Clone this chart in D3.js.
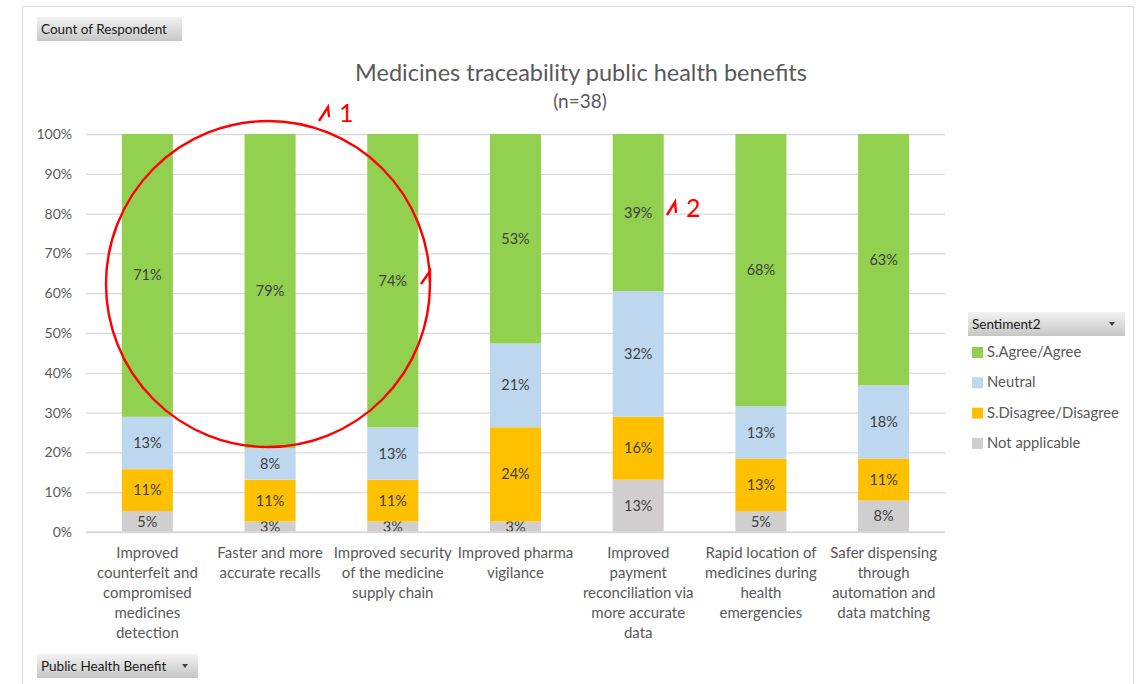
<!DOCTYPE html>
<html lang="en">
<head>
<meta charset="utf-8">
<title>Medicines traceability public health benefits</title>
<script src="https://d3js.org/d3.v7.min.js"></script>
<style>
  body { margin: 0; padding: 0; background: #fff; }
  svg { display: block; font-family: Lato, "Open Sans", sans-serif; }
</style>
</head>
<body>
<svg id="chart" width="1140" height="684"></svg>
<script>
// categories (x axis), split into lines the way the chart wraps them
const categories = [
  ["Improved", "counterfeit and", "compromised", "medicines", "detection"],
  ["Faster and more", "accurate recalls"],
  ["Improved security", "of the medicine", "supply chain"],
  ["Improved pharma", "vigilance"],
  ["Improved", "payment", "reconciliation via", "more accurate", "data"],
  ["Rapid location of", "medicines during", "health", "emergencies"],
  ["Safer dispensing", "through", "automation and", "data matching"]
];

// Count of Respondent per sentiment (n=38)
const notApplicable = [2, 1, 1, 1, 5, 2, 3];
const disagree      = [4, 4, 4, 9, 6, 5, 4];
const neutral       = [5, 3, 5, 8, 12, 5, 7];
const agree         = [27, 30, 28, 20, 15, 26, 24];

const seriesNames = ["Not applicable", "S.Disagree/Disagree", "Neutral", "S.Agree/Agree"];
const seriesValues = [notApplicable, disagree, neutral, agree];
const seriesColors = ["#d0cece", "#ffc000", "#bdd7ee", "#92d050"];
const legendOrder = [3, 2, 1, 0];

const yTicks = [0, 0.1, 0.2, 0.3, 0.4, 0.5, 0.6, 0.7, 0.8, 0.9, 1];

const svg = d3.select("#chart");
const plot = { left: 86, right: 945, top: 134, bottom: 532 };

// outer frame
svg.append("rect")
  .attr("x", 22.5).attr("y", 6.5).attr("width", 1111).attr("height", 700)
  .attr("fill", "none").attr("stroke", "#d9d9d9");

const defs = svg.append("defs");
const grad = defs.append("linearGradient").attr("id", "btn").attr("x1", 0).attr("y1", 0).attr("x2", 0).attr("y2", 1);
grad.append("stop").attr("offset", "0%").attr("stop-color", "#f2f2f2");
grad.append("stop").attr("offset", "100%").attr("stop-color", "#c6c6c6");

function button(x, y, w, h, label, arrow) {
  const g = svg.append("g").attr("transform", `translate(${x},${y})`);
  g.append("rect").attr("width", w).attr("height", h).attr("fill", "url(#btn)");
  g.append("text").attr("x", 4).attr("y", h / 2).attr("dy", "0.35em")
    .attr("font-size", 13.5).attr("fill", "#1a1a1a").text(label);
  if (arrow) {
    g.append("path").attr("d", `M${w - 16},${h / 2 - 2}l6,0l-3,4z`).attr("fill", "#404040");
  }
}

button(37, 17, 145, 24, "Count of Respondent", false);
button(37, 654, 161, 24, "Public Health Benefit", true);

// title
svg.append("text").attr("x", 581).attr("y", 81).attr("text-anchor", "middle")
  .attr("font-size", 23.5).attr("fill", "#595959").text("Medicines traceability public health benefits");
svg.append("text").attr("x", 580).attr("y", 108).attr("text-anchor", "middle")
  .attr("font-size", 19).attr("fill", "#595959").text("(n=38)");

// scales
const x = d3.scaleBand().domain(d3.range(categories.length)).range([plot.left, plot.right]).padding(0);
const y = d3.scaleLinear().domain([0, 1]).range([plot.bottom, plot.top]);
const barW = x.bandwidth() * 0.416;

// gridlines
svg.append("g")
  .attr("transform", `translate(${plot.left},0)`)
  .call(d3.axisLeft(y).tickValues(yTicks).tickSize(-(plot.right - plot.left)).tickFormat(""))
  .call(g => g.select(".domain").remove())
  .call(g => g.selectAll("line").attr("stroke", "#d9d9d9").attr("stroke-width", 1.3));

// y axis labels
svg.append("g")
  .attr("transform", `translate(${plot.left},0)`)
  .call(d3.axisLeft(y).tickValues(yTicks).tickSize(0).tickPadding(14).tickFormat(d3.format(".0%")))
  .call(g => g.select(".domain").remove())
  .call(g => g.selectAll("text").attr("font-size", 14).attr("fill", "#595959")
    .attr("font-family", "Lato, 'Open Sans', sans-serif"));

// stacked data as shares of total respondents
const totals = categories.map((c, i) => d3.sum(seriesValues, s => s[i]));
const rows = categories.map((c, i) => {
  const r = { i };
  seriesValues.forEach((s, k) => { r[k] = s[i] / totals[i]; });
  return r;
});
const stacked = d3.stack().keys(d3.range(seriesValues.length))(rows);

const layers = svg.append("g").selectAll("g").data(stacked).join("g")
  .attr("fill", (d, k) => seriesColors[k]);

layers.selectAll("rect").data(d => d).join("rect")
  .attr("x", d => x(d.data.i) + (x.bandwidth() - barW) / 2)
  .attr("y", d => y(d[1]))
  .attr("width", barW)
  .attr("height", d => y(d[0]) - y(d[1]));

// zero line on top
svg.append("line").attr("x1", plot.left).attr("x2", plot.right)
  .attr("y1", y(0)).attr("y2", y(0)).attr("stroke", "#d9d9d9").attr("stroke-width", 1.5);

// value labels
const pct = d3.format(".0%");
layers.selectAll("text").data(d => d).join("text")
  .attr("x", d => x(d.data.i) + x.bandwidth() / 2)
  .attr("y", d => (y(d[0]) + y(d[1])) / 2)
  .attr("dy", "0.35em")
  .attr("text-anchor", "middle")
  .attr("font-size", 14.5)
  .attr("fill", "#404040")
  .text(d => pct(d[1] - d[0]));

// category labels
const xl = svg.append("g").selectAll("text").data(categories).join("text")
  .attr("text-anchor", "middle")
  .attr("font-size", 15)
  .attr("fill", "#595959")
  .attr("transform", (d, i) => `translate(${x(i) + x.bandwidth() / 2},558)`);
xl.selectAll("tspan").data(d => d).join("tspan")
  .attr("x", 0).attr("y", (d, j) => j * 20).text(d => d);

// legend
button(968, 312, 157, 24, "Sentiment2", true);
const lg = svg.append("g").selectAll("g").data(legendOrder).join("g")
  .attr("transform", (k, j) => `translate(972,${352 + j * 30.3})`);
lg.append("rect").attr("x", 0).attr("y", -5).attr("width", 11).attr("height", 11)
  .attr("fill", k => seriesColors[k]);
lg.append("text").attr("x", 15).attr("y", 0).attr("dy", "0.35em")
  .attr("font-size", 14.8).attr("fill", "#595959").text(k => seriesNames[k]);

// hand-drawn red annotations
const ann = svg.append("g").attr("stroke", "#ff0000").attr("fill", "none").attr("stroke-width", 2.4);
ann.append("ellipse").attr("cx", 268).attr("cy", 284).attr("rx", 162).attr("ry", 163);
ann.append("path").attr("d", "M319,121L328,107L329,117");
ann.append("path").attr("d", "M421,284L430,271L430,282");
ann.append("path").attr("d", "M667,215L675,202L676,213");
svg.append("text").attr("x", 339).attr("y", 122).attr("font-size", 25).attr("fill", "#ff0000").text("1");
svg.append("text").attr("x", 686).attr("y", 217).attr("font-size", 25).attr("fill", "#ff0000").text("2");
</script>
</body>
</html>
